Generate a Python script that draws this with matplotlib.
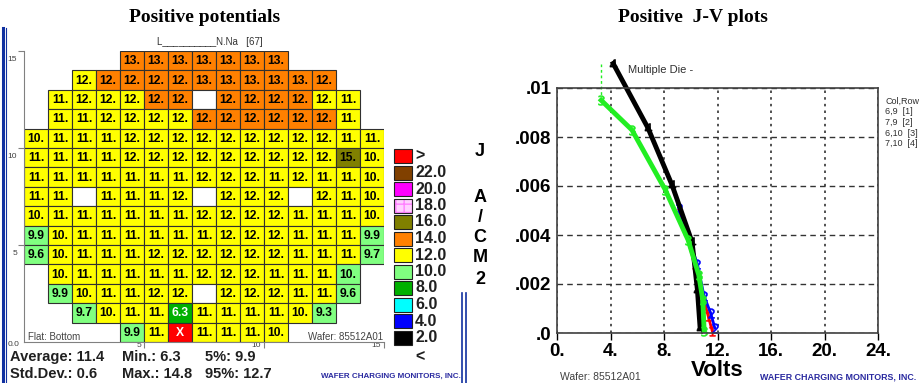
import numpy as np
import matplotlib.pyplot as plt
from matplotlib.patches import Rectangle
from matplotlib.transforms import ScaledTranslation

plt.rcParams['font.family'] = ['Liberation Sans', 'DejaVu Sans']

# die map, top row first; None = off wafer, '' = untested die, 'X' = failed die
N = None
die_rows = [
    [N, N, N, N, 12.9, 12.9, 12.9, 12.9, 12.9, 12.9, 12.9, N, N, N, N],
    [N, N, 11.8, 12.2, 12.2, 12.2, 12.2, 12.9, 12.9, 12.9, 12.9, 12.9, 12.3, N, N],
    [N, 11.0, 11.8, 11.8, 11.8, 12.2, 12.2, '', 12.2, 12.2, 12.2, 12.2, 11.8, 11.0, N],
    [N, 11.0, 11.0, 11.8, 11.8, 11.8, 11.8, 12.2, 12.2, 12.2, 12.2, 12.2, 12.2, 11.0, N],
    [10.4, 11.0, 11.0, 11.0, 11.8, 11.8, 11.8, 11.8, 11.8, 11.8, 11.8, 11.8, 11.8, 11.0, 11.0],
    [11.0, 11.0, 11.0, 11.0, 11.8, 11.8, 11.8, 11.8, 11.8, 11.8, 11.8, 11.8, 11.8, 14.8, 10.4],
    [11.0, 11.0, 11.0, 11.0, 11.0, 11.0, 11.0, 11.8, 11.8, 11.8, 11.0, 11.8, 11.0, 11.0, 10.4],
    [11.0, 11.0, '', 11.0, 11.0, 11.0, 11.8, '', 11.8, 11.8, 11.8, '', 11.8, 11.0, 10.4],
    [10.4, 11.0, 11.0, 11.0, 11.0, 11.0, 11.0, 11.8, 11.8, 11.8, 11.8, 11.0, 11.0, 11.0, 10.4],
    [9.9, 10.4, 11.0, 11.0, 11.0, 11.0, 11.0, 11.0, 11.8, 11.8, 11.8, 11.0, 11.0, 11.0, 9.9],
    [9.6, 10.4, 11.0, 11.0, 11.0, 11.8, 11.8, 11.8, 11.8, 11.8, 11.8, 11.0, 11.0, 11.0, 9.7],
    [N, 10.4, 11.0, 11.0, 11.0, 11.0, 11.0, 11.8, 11.8, 11.8, 11.0, 11.0, 11.0, 9.97, N],
    [N, 9.9, 10.4, 11.0, 11.0, 11.8, 11.8, '', 11.8, 11.8, 11.8, 11.0, 11.0, 9.6, N],
    [N, N, 9.7, 10.4, 11.0, 11.0, 6.3, 11.0, 11.0, 11.0, 11.0, 10.4, 9.3, N, N],
    [N, N, N, N, 9.9, 11.0, 'X', 11.0, 11.0, 11.0, 10.4, N, N, N, N],
]

scale_labels = ['>', '22.0', '20.0', '18.0', '16.0', '14.0', '12.0', '10.0',
                '8.0', '6.0', '4.0', '2.0', '<']
scale_colors = ['#ff0000', '#804000', '#ff00ff', '#ffd0ff', '#808000', '#ff8000',
                '#ffff00', '#80ff80', '#00b000', '#00ffff', '#0000ff', '#000000', None]
scale_limits = [22.0, 20.0, 18.0, 16.0, 14.0, 12.0, 10.0, 8.0, 6.0, 4.0, 2.0]

stats = [('Average: 11.4', 'Std.Dev.: 0.6'), ('Min.: 6.3', 'Max.: 14.8'), ('5%: 9.9', '95%: 12.7')]

# J-V curves, one per die
die_names = ['6,9  [1]', '7,9  [2]', '6,10  [3]', '7,10  [4]']
die_colors = ['#ff0000', '#0000ff', '#22ee22', '#000000']
volts = [
    [9.2, 10.3, 10.9, 11.3, 11.6],
    [9.1, 10.5, 11.0, 11.5, 11.8],
    [3.3, 5.6, 8.1, 9.8, 10.6, 10.9, 11.0],
    [4.2, 6.8, 8.6, 10.1, 10.5, 10.7],
]
jdens = [
    [0.0049, 0.0028, 0.0015, 0.0007, 0.0001],
    [0.0051, 0.0028, 0.0015, 0.0008, 0.0002],
    [0.0095, 0.00829, 0.00584, 0.0038, 0.00237, 0.00135, 0.0001],
    [0.0110, 0.00837, 0.00604, 0.00371, 0.00175, 0.0002],
]
green_top = 0.0110


def cell_color(v):
    col = scale_colors[0]
    for lim, c in zip(scale_limits, scale_colors[1:]):
        if v <= lim:
            col = c
    return col


def cell_text(v):
    return f'{v:.0f}.' if v >= 9.95 else f'{v:.1f}'


W, H = 924, 383
fig = plt.figure(figsize=(W / 100, H / 100), dpi=100)


def px_axes(x0, y0, x1, y1):
    return fig.add_axes([x0 / W, 1 - y1 / H, (x1 - x0) / W, (y1 - y0) / H])


def shift(artist, dx, dy):
    # nudge by pixels (dy positive = down)
    artist.set_transform(artist.get_transform()
                         + ScaledTranslation(dx / 100, -dy / 100, fig.dpi_scale_trans))


# ---- wafer map ----
ax = px_axes(24, 51, 384, 342)
ax.set_facecolor('none')
ax.set_xlim(0, 15)
ax.set_ylim(0, 15)
nrows = len(die_rows)
for i, row in enumerate(die_rows):
    y = nrows - 1 - i
    for x, v in enumerate(row):
        if v is None:
            continue
        if v == '':
            fc, txt, tc = 'white', '', 'black'
        elif v == 'X':
            fc, txt, tc = '#ff0000', 'X', 'white'
        else:
            fc, txt = cell_color(v), cell_text(v)
            tc = 'white' if v < 8 else 'black'
        ax.add_patch(Rectangle((x, y), 1, 1, facecolor=fc, edgecolor='#303030', lw=0.8))
        if txt:
            ax.text(x + 0.5, y + 0.47, txt, ha='center', va='center', fontsize=8.7,
                    fontweight='bold', color=tc)
for s in ['top', 'right']:
    ax.spines[s].set_visible(False)
for s in ['left', 'bottom']:
    ax.spines[s].set_color('#808080')
ax.set_xticks([5, 10, 15], ['5', '10', '15'])
ax.set_yticks([5, 10, 15], ['5', '10', '15'])
ax.tick_params(axis='both', length=4, width=0.8, color='#808080', labelsize=6, labelcolor='#404040')
ax.tick_params(axis='x', pad=-4)
ax.tick_params(axis='y', pad=1)
for lbl in ax.get_xticklabels():
    lbl.set_ha('right')
    shift(lbl, -3, 0)
for lbl in ax.get_yticklabels():
    lbl.set_va('top')
    shift(lbl, 0, 5)

# ---- J-V plot ----
bx = px_axes(557, 88, 878, 333)
bx.set_facecolor('none')
bx.set_xlim(0, 24)
bx.set_ylim(0, 0.01)
bx.set_xticks(np.arange(0, 25, 4), [f'{t}.' for t in range(0, 25, 4)])
bx.set_yticks([0, 0.002, 0.004, 0.006, 0.008, 0.01],
              ['.0', '.002', '.004', '.006', '.008', '.01'])
bx.tick_params(axis='x', length=5, width=1, labelsize=13.5, pad=2)
bx.tick_params(axis='y', length=0, labelsize=13.5, pad=4)
for lbl in bx.get_xticklabels() + bx.get_yticklabels():
    lbl.set_fontweight('bold')
bx.grid(axis='y', ls=(0, (4, 3)), color='#333333', lw=1)
bx.grid(axis='x', ls=(0, (1.5, 2.5)), color='#333333', lw=1.2)
for s in bx.spines.values():
    s.set_color('#404040')
    s.set_linewidth(1.2)
bx.set_xlabel('Volts', fontsize=16, fontweight='bold', labelpad=0)
bx.plot([volts[2][0], volts[2][0]], [jdens[2][0], green_top], color=die_colors[2],
        lw=1, ls=(0, (2, 2)), clip_on=False)
for k in [0, 1, 3, 2]:
    lw = 3.5 if k >= 2 else 2
    bx.plot(volts[k], jdens[k], color=die_colors[k], lw=lw, clip_on=False,
            marker=f'${k + 1}$', ms=7, mec=die_colors[k], mfc=die_colors[k], mew=0.4)

# ---- page decorations in pixel units ----
ov = fig.add_axes([0, 0, 1, 1])
ov.set_xlim(0, W)
ov.set_ylim(H, 0)
ov.axis('off')
ov.set_facecolor('none')

ov.text(205, 18, 'Positive potentials', ha='center', va='center', fontsize=14,
        fontweight='bold', family='Liberation Serif')
ov.text(693, 18, 'Positive  J-V plots', ha='center', va='center', fontsize=14,
        fontweight='bold', family='Liberation Serif')

ov.plot([3, 3], [28, 383], color='#1030a0', lw=2.2)
ov.plot([6, 6], [28, 383], color='#1030a0', lw=0.8)
ov.plot([462, 462], [293, 383], color='#1030a0', lw=1.2)
ov.plot([466, 466], [293, 383], color='#1030a0', lw=1.2)

ov.text(157, 42, 'L__________N.Na   [67]', ha='left', va='center', fontsize=7, color='#333333')
ov.text(28, 337, 'Flat: Bottom', ha='left', va='center', fontsize=7, color='#444444')
ov.text(383, 337, 'Wafer: 85512A01', ha='right', va='center', fontsize=7, color='#444444')
ov.text(20, 345, '0.0', ha='right', va='center', fontsize=6, color='#404040')

# colour scale
for i, (lab, col) in enumerate(zip(scale_labels, scale_colors)):
    yc = 156 + i * 16.5
    if col is not None:
        if lab == '18.0':
            ov.add_patch(Rectangle((394, yc - 7), 18, 14, facecolor=col, edgecolor='#ff80ff',
                                   lw=0, hatch='++'))
            ov.add_patch(Rectangle((394, yc - 7), 18, 14, facecolor='none',
                                   edgecolor='#202020', lw=0.8))
        else:
            ov.add_patch(Rectangle((394, yc - 7), 18, 14, facecolor=col, edgecolor='#202020',
                                   lw=0.8))
    ov.text(415, yc + (3 if lab == '<' else 0), lab, ha='left', va='center',
            fontsize=11.5, fontweight='bold', color='#202020')

for i, (a, b) in enumerate(stats):
    x0 = [10, 122, 205][i]
    ov.text(x0, 357, a, ha='left', va='center', fontsize=10.5, fontweight='bold', color='#202020')
    ov.text(x0, 374, b, ha='left', va='center', fontsize=10.5, fontweight='bold', color='#202020')

ov.text(321, 376, 'WAFER CHARGING MONITORS, INC.', ha='left', va='center', fontsize=5.8,
        fontweight='bold', color='#2a2aa0')
ov.text(760, 377, 'WAFER CHARGING MONITORS, INC.', ha='left', va='center', fontsize=6.4,
        fontweight='bold', color='#2a2aa0')
ov.text(560, 377, 'Wafer: 85512A01', ha='left', va='center', fontsize=7.5, color='#404040')

# stacked y label of the J-V plot
for ch, yc in zip(['J', 'A', '/', 'C', 'M', '2'], [152, 198, 218, 238, 258, 280]):
    ov.text(480, yc, ch, ha='center', va='center', fontsize=13, fontweight='bold')

ov.text(628, 70, 'Multiple Die -', ha='left', va='center', fontsize=8, color='#303030')
ov.text(885, 101, 'Col,Row', ha='left', va='center', fontsize=6.5, color='#303030')
for i, name in enumerate(die_names):
    ov.text(885, 112 + i * 10.5, name, ha='left', va='center', fontsize=6.5, color='#303030')

fig.savefig('out.png', dpi=100)
